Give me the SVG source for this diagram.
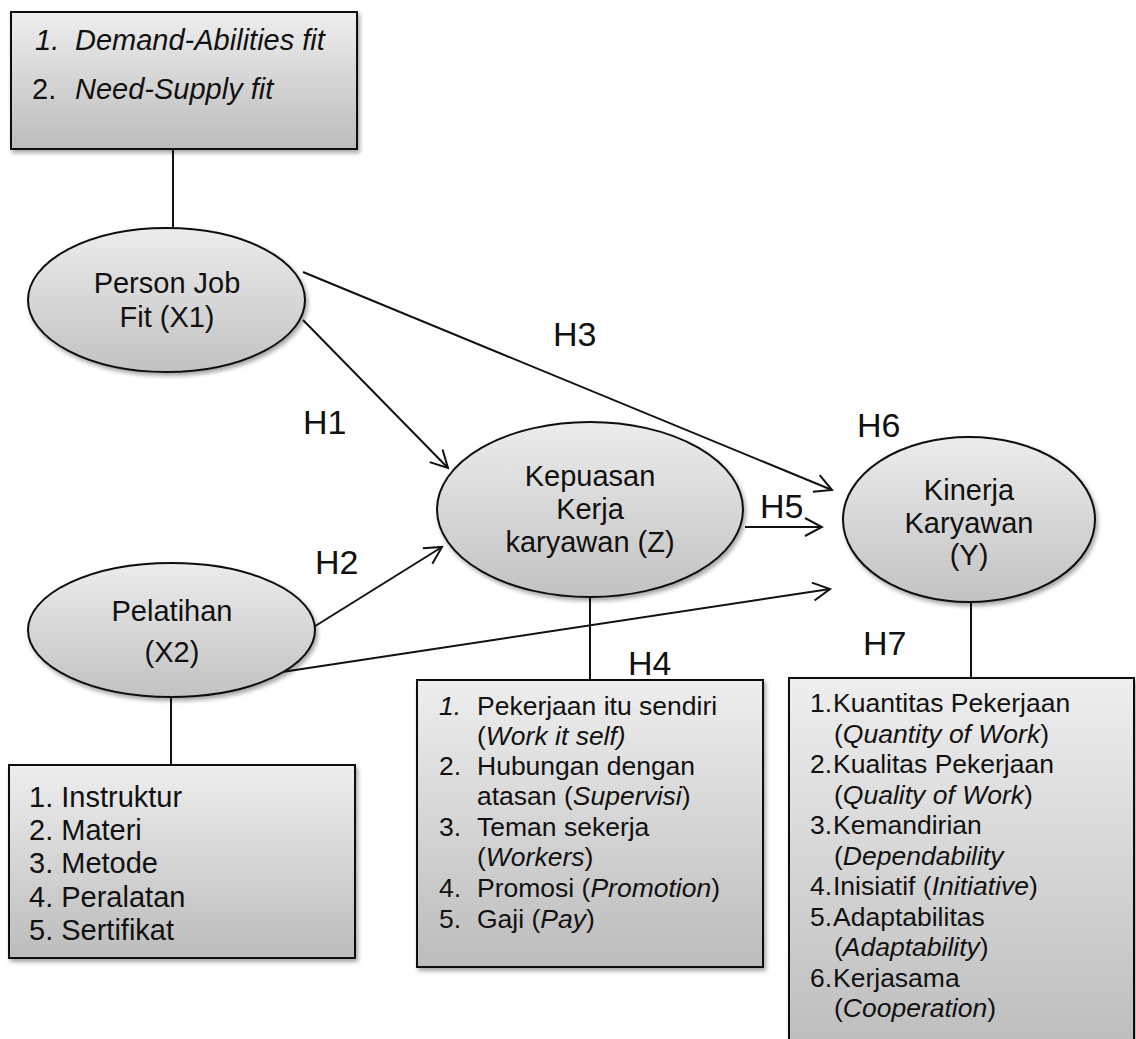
<svg xmlns="http://www.w3.org/2000/svg" width="1136" height="1039" viewBox="0 0 1136 1039">
<style>
  text { font-family: "Liberation Sans", Arial, sans-serif; fill: #111; }
  .t29 { font-size: 29px; }
  .t26 { font-size: 26.5px; }
  .h { font-size: 34px; }
  .c { text-anchor: middle; }
  .i { font-style: italic; }
  .shape { stroke: #111; stroke-width: 2; filter: url(#sh); }
  .box { fill: url(#gb); }
  .ell { fill: url(#ge); }
  .ln { stroke: #111; stroke-width: 2; fill: none; }
  .arr { stroke: #111; stroke-width: 2; fill: none; marker-end: url(#ah); }
</style>
<defs>
  <linearGradient id="gb" x1="0" y1="0" x2="0" y2="1">
    <stop offset="0" stop-color="#eeeeee"/>
    <stop offset="1" stop-color="#bcbcbc"/>
  </linearGradient>
  <linearGradient id="ge" x1="0" y1="0" x2="0" y2="1">
    <stop offset="0" stop-color="#ececec"/>
    <stop offset="1" stop-color="#c2c2c2"/>
  </linearGradient>
  <filter id="sh" x="-10%" y="-10%" width="125%" height="130%">
    <feDropShadow dx="2" dy="3" stdDeviation="2" flood-color="#000" flood-opacity="0.35"/>
  </filter>
  <marker id="ah" viewBox="0 0 20 20" refX="18" refY="10" markerWidth="20" markerHeight="20" markerUnits="userSpaceOnUse" orient="auto">
    <path d="M1,1 L18,10 L1,19" fill="none" stroke="#111" stroke-width="2"/>
  </marker>
</defs>

<g id="connectors">
  <line class="ln" x1="173" y1="149" x2="173" y2="228"/>
  <line class="ln" x1="171" y1="697" x2="171" y2="765"/>
  <line class="ln" x1="590" y1="597" x2="590" y2="680"/>
  <line class="ln" x1="971" y1="602" x2="971" y2="678"/>
  <line class="arr" x1="303" y1="272" x2="832" y2="490"/>
  <line class="arr" x1="303" y1="320" x2="448" y2="468"/>
  <line class="arr" x1="312" y1="628" x2="442" y2="547"/>
  <line class="arr" x1="282" y1="672" x2="830" y2="589"/>
  <line class="arr" x1="745" y1="527" x2="822" y2="527"/>
</g>

<g id="labels">
  <text class="h" x="303" y="434">H1</text>
  <text class="h" x="315" y="574">H2</text>
  <text class="h" x="553" y="346">H3</text>
  <text class="h" x="628" y="675">H4</text>
  <text class="h" x="760" y="518">H5</text>
  <text class="h" x="857" y="437">H6</text>
  <text class="h" x="863" y="655">H7</text>
</g>

<g id="box-x1">
  <rect class="shape box" x="11" y="12" width="346" height="137"/>
  <text class="t29 i" x="35" y="50">1.</text>
  <text class="t29 i" x="75" y="50">Demand-Abilities fit</text>
  <text class="t29" x="32" y="99">2.</text>
  <text class="t29 i" x="75" y="99">Need-Supply fit</text>
</g>

<g id="node-x1">
  <ellipse class="shape ell" cx="166.5" cy="300" rx="138.5" ry="72"/>
  <text class="t29 c" x="167" y="293">Person Job</text>
  <text class="t29 c" x="167" y="327">Fit (X1)</text>
</g>

<g id="node-x2">
  <ellipse class="shape ell" cx="171.5" cy="630" rx="143.5" ry="67"/>
  <text class="t29 c" x="172" y="621">Pelatihan</text>
  <text class="t29 c" x="172" y="662">(X2)</text>
</g>

<g id="node-z">
  <ellipse class="shape ell" cx="590" cy="509.5" rx="153" ry="87.5"/>
  <text class="t29 c" x="590" y="486">Kepuasan</text>
  <text class="t29 c" x="590" y="519">Kerja</text>
  <text class="t29 c" x="590" y="552">karyawan (Z)</text>
</g>

<g id="node-y">
  <ellipse class="shape ell" cx="969" cy="519.5" rx="126" ry="82.5"/>
  <text class="t29 c" x="969" y="500">Kinerja</text>
  <text class="t29 c" x="969" y="533">Karyawan</text>
  <text class="t29 c" x="969" y="565">(Y)</text>
</g>

<g id="box-x2">
  <rect class="shape box" x="9" y="765" width="346" height="193"/>
  <text class="t29" x="29" y="807">1. Instruktur</text>
  <text class="t29" x="29" y="840">2. Materi</text>
  <text class="t29" x="29" y="873">3. Metode</text>
  <text class="t29" x="29" y="907">4. Peralatan</text>
  <text class="t29" x="29" y="940">5. Sertifikat</text>
</g>

<g id="box-z">
  <rect class="shape box" x="417" y="680" width="346" height="287"/>
  <text class="t26 i" x="439" y="715">1.</text>
  <text class="t26" x="477" y="715">Pekerjaan itu sendiri</text>
  <text class="t26" x="477" y="745">(<tspan class="i">Work it self)</tspan></text>
  <text class="t26" x="439" y="775">2.</text>
  <text class="t26" x="477" y="775">Hubungan dengan</text>
  <text class="t26" x="477" y="805">atasan (<tspan class="i">Supervisi</tspan>)</text>
  <text class="t26" x="439" y="836">3.</text>
  <text class="t26" x="477" y="836">Teman sekerja</text>
  <text class="t26" x="477" y="866">(<tspan class="i">Workers</tspan>)</text>
  <text class="t26" x="439" y="897">4.</text>
  <text class="t26" x="477" y="897">Promosi (<tspan class="i">Promotion</tspan>)</text>
  <text class="t26" x="439" y="928">5.</text>
  <text class="t26" x="477" y="928">Gaji (<tspan class="i">Pay</tspan>)</text>
</g>

<g id="box-y">
  <rect class="shape box" x="789" y="678" width="345" height="380"/>
  <text class="t26" x="810" y="712">1.</text>
  <text class="t26" x="833" y="712">Kuantitas Pekerjaan</text>
  <text class="t26" x="834" y="742.5">(<tspan class="i">Quantity of Work</tspan>)</text>
  <text class="t26" x="810" y="773">2.</text>
  <text class="t26" x="833" y="773">Kualitas Pekerjaan</text>
  <text class="t26" x="834" y="803.5">(<tspan class="i">Quality of Work</tspan>)</text>
  <text class="t26" x="810" y="834">3.</text>
  <text class="t26" x="833" y="834">Kemandirian</text>
  <text class="t26" x="834" y="864.5">(<tspan class="i">Dependability</tspan></text>
  <text class="t26" x="810" y="895">4.</text>
  <text class="t26" x="833" y="895">Inisiatif (<tspan class="i">Initiative</tspan>)</text>
  <text class="t26" x="810" y="925.5">5.</text>
  <text class="t26" x="833" y="925.5">Adaptabilitas</text>
  <text class="t26" x="834" y="956">(<tspan class="i">Adaptability</tspan>)</text>
  <text class="t26" x="810" y="986.5">6.</text>
  <text class="t26" x="833" y="986.5">Kerjasama</text>
  <text class="t26" x="834" y="1017">(<tspan class="i">Cooperation</tspan>)</text>
</g>
</svg>
